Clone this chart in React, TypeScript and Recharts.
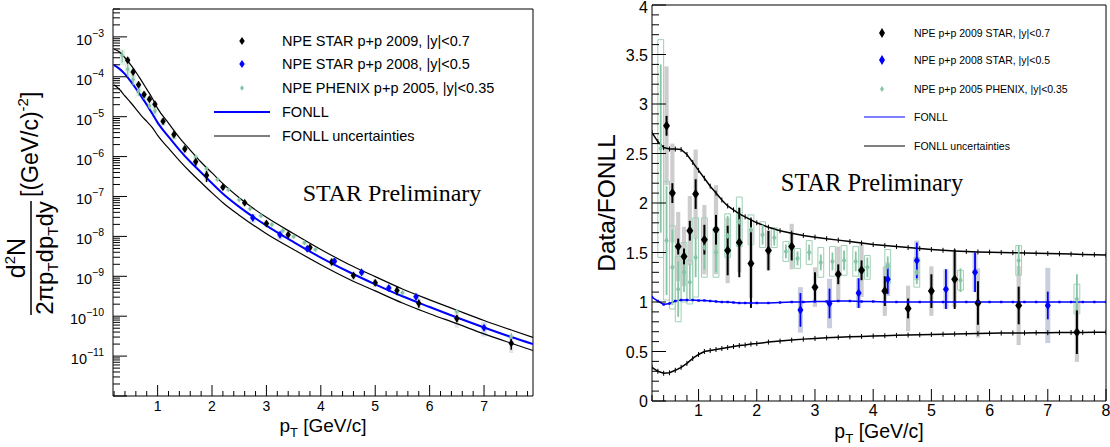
import React from "react";
import {
  ComposedChart,
  Line,
  Scatter,
  XAxis,
  YAxis,
  ErrorBar,
  ReferenceArea,
  Legend,
} from "recharts";

const SANS = "'Liberation Sans', Arial, Helvetica, sans-serif";
const SERIF = "'Liberation Serif', 'Times New Roman', Times, serif";

const BLUE = "#0000ff";
const GREEN = "#86c4a4";
const GREEN_BOX = "#9ed0b6";

// NPE STAR p+p 2009, |y|<0.7
const star09Pt = [0.45, 0.55, 0.65, 0.75, 0.85, 0.95, 1.1, 1.3, 1.5, 1.7, 1.9, 2.2, 2.6, 3.0, 3.4, 3.8, 4.2, 4.6, 5.0, 5.4, 5.8, 6.5, 7.5];
const star09Yield = [2.6e-4, 1.32e-4, 6.3e-5, 3.6e-5, 2.75e-5, 2.05e-5, 7.7e-6, 3.6e-6, 1.55e-6, 7.4e-7, 3.4e-7, 1.7e-7, 7.0e-8, 2.1e-8, 1.1e-8, 5.3e-9, 2.27e-9, 1.05e-9, 6.9e-10, 4.4e-10, 2.1e-10, 8.8e-11, 2.1e-11];
const star09Ratio = [2.78, 2.1, 1.56, 1.46, 1.72, 2.09, 1.63, 1.73, 1.52, 1.6, 1.39, 1.52, 1.56, 1.15, 1.28, 1.32, 1.11, 0.935, 1.11, 1.23, 0.99, 0.965, 0.695];
const star09Stat = [0.1, 0.1, 0.08, 0.08, 0.1, 0.15, 0.15, 0.15, 0.25, 0.35, 0.45, 0.2, 0.14, 0.15, 0.1, 0.1, 0.15, 0.1, 0.17, 0.3, 0.22, 0.19, 0.22];
const star09Sys = [0.6, 0.5, 0.35, 0.3, 0.35, 0.45, 0.35, 0.45, 0.33, 0.3, 0.35, 0.2, 0.23, 0.2, 0.28, 0.27, 0.25, 0.23, 0.25, 0.28, 0.35, 0.4, 0.3];

// NPE STAR p+p 2008, |y|<0.5
const star08Pt = [2.75, 3.25, 3.75, 4.25, 4.75, 5.25, 5.75, 7.0];
const star08Yield = [2.95e-8, 1.1e-8, 4.9e-9, 2.4e-9, 1.27e-9, 5.1e-10, 3.07e-10, 5.1e-11];
const star08Ratio = [0.92, 0.985, 1.09, 1.23, 1.42, 1.13, 1.3, 0.965];
const star08Stat = [0.17, 0.15, 0.15, 0.15, 0.18, 0.2, 0.2, 0.14];
const star08Sys = [0.23, 0.25, 0.15, 0.17, 0.2, 0.2, 0.2, 0.38];

// NPE PHENIX p+p 2005, |y|<0.35
const phenixPt = [0.35, 0.45, 0.55, 0.65, 0.75, 0.85, 0.95, 1.1, 1.3, 1.5, 1.7, 1.9, 2.1, 2.3, 2.5, 2.7, 2.9, 3.1, 3.3, 3.5, 3.7, 3.9, 4.25, 4.75, 5.5, 6.5, 7.5];
const phenixYield = [3.4e-4, 1.55e-4, 8.6e-5, 4.5e-5, 3.25e-5, 1.86e-5, 1.38e-5, 7.4e-6, 3.2e-6, 1.7e-6, 9.8e-7, 5.0e-7, 2.65e-7, 1.49e-7, 8.3e-8, 4.9e-8, 3.3e-8, 2.0e-8, 1.38e-8, 9.9e-9, 6.9e-9, 4.7e-9, 2.65e-9, 1.17e-9, 3.85e-10, 1.32e-10, 3.1e-11];
const phenixRatio = [2.55, 1.62, 1.35, 1.13, 1.3, 1.2, 1.45, 1.55, 1.5, 1.67, 1.81, 1.73, 1.68, 1.65, 1.51, 1.44, 1.5, 1.4, 1.41, 1.42, 1.41, 1.35, 1.36, 1.3, 1.22, 1.42, 1.03];
const phenixStat = [0.85, 0.55, 0.38, 0.28, 0.2, 0.18, 0.2, 0.22, 0.2, 0.2, 0.15, 0.12, 0.1, 0.08, 0.07, 0.07, 0.08, 0.08, 0.09, 0.1, 0.1, 0.1, 0.1, 0.12, 0.12, 0.15, 0.25];
const phenixSys = [1.1, 0.6, 0.42, 0.33, 0.3, 0.22, 0.4, 0.3, 0.25, 0.22, 0.25, 0.15, 0.13, 0.1, 0.1, 0.1, 0.12, 0.15, 0.15, 0.15, 0.15, 0.12, 0.17, 0.15, 0.1, 0.15, 0.15];

// FONLL spectrum (central + uncertainty band)
const fonllPt = [0.2, 0.3, 0.4, 0.5, 0.6, 0.7, 0.8, 0.9, 1.0, 1.2, 1.4, 1.6, 1.8, 2.0, 2.2, 2.5, 3.0, 3.5, 4.0, 4.5, 5.0, 5.5, 6.0, 6.5, 7.0, 7.5, 7.9];
const fonllCentral = [1.95e-4, 1.58e-4, 1.17e-4, 7.9e-5, 5.1e-5, 3.2e-5, 2.0e-5, 1.2e-5, 7.1e-6, 3.16e-6, 1.48e-6, 7.4e-7, 4.0e-7, 2.14e-7, 1.17e-7, 5.5e-8, 1.86e-8, 7.2e-9, 2.95e-9, 1.32e-9, 6.3e-10, 3.16e-10, 1.7e-10, 9.3e-11, 5.2e-11, 3.0e-11, 2.0e-11];
const fonllUpper = [4.9e-4, 4.2e-4, 3.0e-4, 2.04e-4, 1.32e-4, 8.1e-5, 4.9e-5, 2.95e-5, 1.62e-5, 6.9e-6, 3.0e-6, 1.45e-6, 7.2e-7, 3.9e-7, 2.1e-7, 9.3e-8, 3.0e-8, 1.17e-8, 4.7e-9, 2.04e-9, 9.8e-10, 4.8e-10, 2.57e-10, 1.41e-10, 7.8e-11, 4.5e-11, 2.95e-11];
const fonllLower = [6.3e-5, 4.8e-5, 3.3e-5, 2.3e-5, 1.58e-5, 1.07e-5, 7.6e-6, 5.4e-6, 3.4e-6, 1.62e-6, 7.9e-7, 4.1e-7, 2.24e-7, 1.23e-7, 7.0e-8, 3.4e-8, 1.17e-8, 4.7e-9, 1.95e-9, 8.7e-10, 4.3e-10, 2.14e-10, 1.15e-10, 6.5e-11, 3.6e-11, 2.1e-11, 1.38e-11];

// FONLL / FONLL central, with its uncertainties
const ratioPt = [0.2, 0.3, 0.4, 0.5, 0.6, 0.7, 0.8, 0.9, 1.0, 1.1, 1.2, 1.3, 1.4, 1.5, 1.6, 1.7, 1.8, 1.9, 2.0, 2.2, 2.4, 2.6, 2.8, 3.0, 3.2, 3.4, 3.6, 3.8, 4.0, 4.2, 4.4, 4.6, 4.8, 5.0, 5.2, 5.4, 5.6, 5.8, 6.0, 6.2, 6.4, 6.6, 6.8, 7.0, 7.2, 7.4, 7.6, 7.8, 8.0];
const ratioUpper = [2.71, 2.62, 2.56, 2.545, 2.545, 2.54, 2.49, 2.41, 2.33, 2.25, 2.17, 2.1, 2.03, 1.97, 1.93, 1.89, 1.86, 1.83, 1.8, 1.755, 1.72, 1.695, 1.672, 1.655, 1.64, 1.625, 1.61, 1.595, 1.58, 1.57, 1.56, 1.55, 1.54, 1.53, 1.522, 1.516, 1.51, 1.506, 1.503, 1.5, 1.498, 1.496, 1.493, 1.49, 1.487, 1.484, 1.481, 1.478, 1.475];
const ratioCentral = [1.05, 1.01, 0.975, 0.985, 1.01, 1.02, 1.02, 1.02, 1.015, 1.015, 1.01, 1.005, 1.0, 1.0, 0.995, 0.99, 0.99, 0.99, 0.99, 0.99, 0.995, 1.0, 1.0, 1.005, 1.005, 1.01, 1.01, 1.005, 1.005, 1.0, 1.0, 1.0, 1.0, 1.0, 1.0, 1.0, 1.0, 1.0, 1.0, 1.0, 1.0, 1.0, 1.0, 1.0, 1.0, 1.0, 1.0, 1.0, 1.0];
const ratioLower = [0.34, 0.3, 0.28, 0.285, 0.31, 0.34, 0.38, 0.43, 0.47, 0.5, 0.51, 0.52, 0.53, 0.54, 0.55, 0.56, 0.565, 0.575, 0.58, 0.595, 0.605, 0.615, 0.625, 0.632, 0.638, 0.643, 0.648, 0.652, 0.656, 0.66, 0.663, 0.666, 0.669, 0.672, 0.675, 0.677, 0.68, 0.682, 0.684, 0.686, 0.687, 0.688, 0.689, 0.69, 0.691, 0.692, 0.693, 0.694, 0.695];

const logLabelExps = [-11, -10, -9, -8, -7, -6, -5, -4, -3];
const ratioLabels = [0, 0.5, 1, 1.5, 2, 2.5, 3, 3.5, 4];

// axis ticks (minor ones without label)
const specXTicks = Array.from({ length: 39 }, (_, i) => (i + 1) / 5);
const ratioXTicks = Array.from({ length: 40 }, (_, i) => (i + 1) / 5);
const ratioYTicks = Array.from({ length: 41 }, (_, i) => i / 10);
const logTicks: number[] = [];
for (let e = -12; e <= -3; e++) {
  for (let m = 1; m <= 9; m++) {
    const v = m * Math.pow(10, e);
    if (v <= 5e-3) logTicks.push(v);
  }
}

const curve = (xs: number[], ys: number[]) => xs.map((x, i) => ({ x, y: ys[i] }));

const spectrumPoints = (pt: number[], y: number[], r: number[], st: number[]) =>
  pt.map((x, i) => ({ x, y: y[i], e: (y[i] * st[i]) / r[i] }));
const ratioPoints = (pt: number[], r: number[], st: number[]) =>
  pt.map((x, i) => ({ x, y: r[i], e: st[i] }));

const diamond = (w: number, h: number, color: string) => (props: any) => {
  const { cx, cy } = props;
  if (cx == null || cy == null) return <g />;
  return (
    <polygon
      points={`${cx},${cy - h / 2} ${cx + w / 2},${cy} ${cx},${cy + h / 2} ${cx - w / 2},${cy}`}
      fill={color}
    />
  );
};

const xTick = (fontSize: number, dy: number, major: number, minor: number) => (props: any) => {
  const { x, y, payload } = props;
  const v = payload.value;
  const isMajor = Math.abs(v - Math.round(v)) < 1e-6;
  return (
    <g>
      <line x1={x} x2={x} y1={y} y2={y - (isMajor ? major : minor)} stroke="#000" strokeWidth={1} />
      {isMajor && (
        <text x={x} y={y + dy} textAnchor="middle" fontSize={fontSize} fontFamily={SANS} fill="#000">
          {Math.round(v)}
        </text>
      )}
    </g>
  );
};

const logTick = (props: any) => {
  const { x, y, payload } = props;
  const lg = Math.log10(payload.value);
  const exp = Math.round(lg);
  const isMajor = Math.abs(lg - exp) < 1e-6;
  return (
    <g>
      <line x1={x} x2={x + (isMajor ? 14 : 7)} y1={y} y2={y} stroke="#000" strokeWidth={1} />
      {isMajor && logLabelExps.includes(exp) && (
        <text x={x - 9} y={y + 8} textAnchor="end" fontFamily={SANS} fill="#000">
          <tspan fontSize={14.5}>10</tspan>
          <tspan fontSize={10.5} dy={-8}>{`\u2212${-exp}`}</tspan>
        </text>
      )}
    </g>
  );
};

const ratioYTick = (props: any) => {
  const { x, y, payload } = props;
  const v = payload.value;
  const isMajor = Math.abs(v * 2 - Math.round(v * 2)) < 1e-6;
  const lab = ratioLabels.find((l) => Math.abs(l - v) < 1e-6);
  return (
    <g>
      <line x1={x} x2={x + (isMajor ? 14 : 7)} y1={y} y2={y} stroke="#000" strokeWidth={1} />
      {lab !== undefined && (
        <text x={x - 4} y={Math.max(y + 6, 12.5)} textAnchor="end" fontSize={16} fontFamily={SANS} fill="#000">
          {String(lab)}
        </text>
      )}
    </g>
  );
};

function PtTitle({ vb, size, dy }: { vb: any; size: number; dy: number }) {
  if (!vb) return null;
  return (
    <text x={vb.x + vb.width / 2} y={vb.y + dy} textAnchor="middle" fontSize={size} fontFamily={SANS} fill="#000">
      <tspan>p</tspan>
      <tspan fontSize={size * 0.68} dy={5}>T</tspan>
      <tspan dy={-5}> [GeV/c]</tspan>
    </text>
  );
}

function YieldTitle() {
  return (
    <g transform="translate(31, 258) rotate(-90)" fontFamily={SANS} fill="#000">
      <line x1={-57} x2={57} y1={0} y2={0} stroke="#000" strokeWidth={1.5} />
      <text x={0} y={-6} textAnchor="middle" fontSize={25}>
        <tspan>d</tspan>
        <tspan fontSize={15} dy={-10}>2</tspan>
        <tspan dy={10}>N</tspan>
      </text>
      <text x={0} y={22} textAnchor="middle" fontSize={24}>
        <tspan>2πp</tspan>
        <tspan fontSize={15} dy={5}>T</tspan>
        <tspan dy={-5}>dp</tspan>
        <tspan fontSize={15} dy={5}>T</tspan>
        <tspan dy={-5}>dy</tspan>
      </text>
      <text x={61} y={7} textAnchor="start" fontSize={23}>
        <tspan>[(GeV/c)</tspan>
        <tspan fontSize={15} dy={-10}>-2</tspan>
        <tspan dy={10}>]</tspan>
      </text>
    </g>
  );
}

function LegendRows({
  rows,
  fontSize,
  dx,
  tx,
  lx1,
  lx2,
  w,
  h,
}: {
  rows: { label: string; kind: string; color: string; y: number; dw: number; dh: number }[];
  fontSize: number;
  dx: number;
  tx: number;
  lx1: number;
  lx2: number;
  w: number;
  h: number;
}) {
  return (
    <svg width={w} height={h} style={{ display: "block", overflow: "visible" }}>
      {rows.map((r) => (
        <g key={r.label}>
          {r.kind === "marker" ? (
            <polygon
              points={`${dx},${r.y - r.dh / 2} ${dx + r.dw / 2},${r.y} ${dx},${r.y + r.dh / 2} ${dx - r.dw / 2},${r.y}`}
              fill={r.color}
            />
          ) : (
            <line x1={lx1} x2={lx2} y1={r.y} y2={r.y} stroke={r.color} strokeWidth={r.dw} />
          )}
          <text x={tx} y={r.y + fontSize * 0.36} fontSize={fontSize} fontFamily={SANS} fill="#000">
            {r.label}
          </text>
        </g>
      ))}
    </svg>
  );
}

function SpectrumPanel() {
  const black = spectrumPoints(star09Pt, star09Yield, star09Ratio, star09Stat);
  const blue = spectrumPoints(star08Pt, star08Yield, star08Ratio, star08Stat);
  const green = spectrumPoints(phenixPt, phenixYield, phenixRatio, phenixStat);
  const box = (pt: number[], y: number[], r: number[], sys: number[], fill: string, key: string, hw: number) =>
    pt.map((x, i) => {
      const f = sys[i] / r[i];
      return (
        <ReferenceArea
          key={key + i}
          x1={x - hw}
          x2={x + hw}
          y1={y[i] * (1 - f)}
          y2={y[i] * (1 + f)}
          fill={fill}
          fillOpacity={0.55}
          stroke="none"
          ifOverflow="hidden"
        />
      );
    });
  return (
    <ComposedChart width={560} height={447} margin={{ top: 9, right: 27, bottom: 11, left: 0 }}>
      <XAxis
        type="number"
        dataKey="x"
        domain={[0.18, 7.9]}
        allowDataOverflow
        ticks={specXTicks}
        interval={0}
        tickLine={false}
        axisLine={false}
        tickSize={0}
        tickMargin={0}
        height={40}
        tick={xTick(14, 15, 11, 5)}
        label={{ content: (p: any) => <PtTitle vb={p.viewBox} size={19} dy={36} /> }}
      />
      <YAxis
        type="number"
        scale="log"
        domain={[1e-12, 5e-3]}
        allowDataOverflow
        ticks={logTicks}
        interval={0}
        tickLine={false}
        axisLine={false}
        tickSize={0}
        tickMargin={0}
        width={113}
        tick={logTick}
        label={{ content: () => <YieldTitle /> }}
      />
      <ReferenceArea x1={0.18} x2={7.9} y1={1e-12} y2={5e-3} fill="none" stroke="#000" strokeWidth={1} />
      {box(phenixPt, phenixYield, phenixRatio, phenixSys, "#c9e3d5", "pg", 0.05)}
      {box(star09Pt, star09Yield, star09Ratio, star09Sys, "#cfcfcf", "pk", 0.04)}
      {box(star08Pt, star08Yield, star08Ratio, star08Sys, "#b9c6e6", "pb", 0.05)}
      <Line data={curve(fonllPt, fonllUpper)} dataKey="y" type="monotone" stroke="#000" strokeWidth={1.2} dot={false} isAnimationActive={false} />
      <Line data={curve(fonllPt, fonllLower)} dataKey="y" type="monotone" stroke="#000" strokeWidth={1.2} dot={false} isAnimationActive={false} />
      <Line data={curve(fonllPt, fonllCentral)} dataKey="y" type="monotone" stroke={BLUE} strokeWidth={2} dot={false} isAnimationActive={false} />
      <Scatter data={green} dataKey="y" shape={diamond(4, 5.5, GREEN)} isAnimationActive={false}>
        <ErrorBar dataKey="e" direction="y" width={0} stroke={GREEN} strokeWidth={1.2} />
      </Scatter>
      <Scatter data={black} dataKey="y" shape={diamond(5.5, 8, "#000")} isAnimationActive={false}>
        <ErrorBar dataKey="e" direction="y" width={0} stroke="#000" strokeWidth={1.5} />
      </Scatter>
      <Scatter data={blue} dataKey="y" shape={diamond(5.5, 8, BLUE)} isAnimationActive={false}>
        <ErrorBar dataKey="e" direction="y" width={0} stroke={BLUE} strokeWidth={1.5} />
      </Scatter>
      <text x={392} y={201} textAnchor="middle" fontSize={24} fontFamily={SERIF} fill="#000">
        STAR Preliminary
      </text>
      <Legend
        layout="vertical"
        align="center"
        verticalAlign="middle"
        wrapperStyle={{ left: 200, top: 25, width: 320, height: 125 }}
        content={() => (
          <LegendRows
            w={320}
            h={125}
            fontSize={14.5}
            dx={42}
            tx={82}
            lx1={14}
            lx2={70}
            rows={[
              { label: "NPE STAR p+p 2009, |y|<0.7", kind: "marker", color: "#000", y: 16, dw: 5.5, dh: 8 },
              { label: "NPE STAR p+p 2008, |y|<0.5", kind: "marker", color: BLUE, y: 39, dw: 5.5, dh: 8 },
              { label: "NPE PHENIX p+p 2005, |y|<0.35", kind: "marker", color: GREEN, y: 63, dw: 4, dh: 5.5 },
              { label: "FONLL", kind: "line", color: BLUE, y: 87, dw: 2, dh: 0 },
              { label: "FONLL uncertainties", kind: "line", color: "#000", y: 111, dw: 1.2, dh: 0 },
            ]}
          />
        )}
      />
    </ComposedChart>
  );
}

const tickDot = (props: any) => {
  const { cx, cy } = props;
  if (cx == null || cy == null) return <g />;
  return <line x1={cx} x2={cx} y1={cy - 2.5} y2={cy + 2.5} stroke="#000" strokeWidth={1} />;
};
const blueDot = (props: any) => {
  const { cx, cy } = props;
  if (cx == null || cy == null) return <g />;
  return <rect x={cx - 1.2} y={cy - 1.2} width={2.4} height={2.4} fill={BLUE} />;
};

function RatioPanel() {
  const black = ratioPoints(star09Pt, star09Ratio, star09Stat);
  const blue = ratioPoints(star08Pt, star08Ratio, star08Stat);
  const green = ratioPoints(phenixPt, phenixRatio, phenixStat);
  return (
    <ComposedChart width={550} height={447} margin={{ top: 5, right: 4, bottom: 6, left: 0 }}>
      <XAxis
        type="number"
        dataKey="x"
        domain={[0.2, 8]}
        allowDataOverflow
        ticks={ratioXTicks}
        interval={0}
        tickLine={false}
        axisLine={false}
        tickSize={0}
        tickMargin={0}
        height={40}
        tick={xTick(16, 15, 12, 6)}
        label={{ content: (p: any) => <PtTitle vb={p.viewBox} size={19.5} dy={37} /> }}
      />
      <YAxis
        type="number"
        domain={[0, 4]}
        allowDataOverflow
        ticks={ratioYTicks}
        interval={0}
        tickLine={false}
        axisLine={false}
        tickSize={0}
        tickMargin={0}
        width={92}
        tick={ratioYTick}
        label={{
          content: (p: any) => {
            const vb = p.viewBox || { x: 0, y: 5, width: 92, height: 396 };
            return (
              <text
                transform={`translate(${vb.x + 55}, ${vb.y + vb.height / 2}) rotate(-90)`}
                textAnchor="middle"
                fontSize={24.5}
                fontFamily={SANS}
                fill="#000"
              >
                Data/FONLL
              </text>
            );
          },
        }}
      />
      <ReferenceArea x1={0.2} x2={8} y1={0} y2={4} fill="none" stroke="#000" strokeWidth={1} />
      {star09Pt.map((x, i) => (
        <ReferenceArea
          key={"rk" + i}
          x1={x - 0.036}
          x2={x + 0.036}
          y1={star09Ratio[i] - star09Sys[i]}
          y2={star09Ratio[i] + star09Sys[i]}
          fill="#c4c4c4"
          fillOpacity={0.85}
          stroke="none"
          ifOverflow="hidden"
        />
      ))}
      {star08Pt.map((x, i) => (
        <ReferenceArea
          key={"rb" + i}
          x1={x - 0.043}
          x2={x + 0.043}
          y1={star08Ratio[i] - star08Sys[i]}
          y2={star08Ratio[i] + star08Sys[i]}
          fill="#c3cadb"
          fillOpacity={0.9}
          stroke="none"
          ifOverflow="hidden"
        />
      ))}
      {phenixPt.map((x, i) => (
        <ReferenceArea
          key={"rg" + i}
          x1={x - 0.05}
          x2={x + 0.05}
          y1={phenixRatio[i] - phenixSys[i]}
          y2={phenixRatio[i] + phenixSys[i]}
          fill="none"
          stroke={GREEN_BOX}
          strokeWidth={1}
          ifOverflow="hidden"
        />
      ))}
      <Line data={curve(ratioPt, ratioUpper)} dataKey="y" type="linear" stroke="#000" strokeWidth={1.5} dot={tickDot} isAnimationActive={false} />
      <Line data={curve(ratioPt, ratioLower)} dataKey="y" type="linear" stroke="#000" strokeWidth={1.5} dot={tickDot} isAnimationActive={false} />
      <Line data={curve(ratioPt, ratioCentral)} dataKey="y" type="linear" stroke={BLUE} strokeWidth={1.5} dot={blueDot} isAnimationActive={false} />
      <Scatter data={green} dataKey="y" shape={diamond(4.5, 6.5, GREEN)} isAnimationActive={false}>
        <ErrorBar dataKey="e" direction="y" width={0} stroke={GREEN} strokeWidth={1.8} />
      </Scatter>
      <Scatter data={black} dataKey="y" shape={diamond(7, 10, "#000")} isAnimationActive={false}>
        <ErrorBar dataKey="e" direction="y" width={0} stroke="#000" strokeWidth={2} />
      </Scatter>
      <Scatter data={blue} dataKey="y" shape={diamond(6, 9, BLUE)} isAnimationActive={false}>
        <ErrorBar dataKey="e" direction="y" width={0} stroke={BLUE} strokeWidth={1.8} />
      </Scatter>
      <text x={312} y={191} textAnchor="middle" fontSize={24.5} fontFamily={SERIF} fill="#000">
        STAR Preliminary
      </text>
      <Legend
        layout="vertical"
        align="center"
        verticalAlign="middle"
        wrapperStyle={{ left: 300, top: 15, width: 240, height: 150 }}
        content={() => (
          <LegendRows
            w={240}
            h={150}
            fontSize={10.5}
            dx={22}
            tx={54}
            lx1={4}
            lx2={45}
            rows={[
              { label: "NPE p+p 2009 STAR, |y|<0.7", kind: "marker", color: "#000", y: 18, dw: 6, dh: 10 },
              { label: "NPE p+p 2008 STAR, |y|<0.5", kind: "marker", color: BLUE, y: 45, dw: 6, dh: 10 },
              { label: "NPE p+p 2005 PHENIX, |y|<0.35", kind: "marker", color: GREEN, y: 74, dw: 4, dh: 6 },
              { label: "FONLL", kind: "line", color: BLUE, y: 102, dw: 1.2, dh: 0 },
              { label: "FONLL uncertainties", kind: "line", color: "#000", y: 131, dw: 1.2, dh: 0 },
            ]}
          />
        )}
      />
    </ComposedChart>
  );
}

export default function App() {
  return (
    <div style={{ position: "absolute", left: 0, top: 0, width: 1110, height: 447, background: "#fff", fontFamily: SANS }}>
      <div style={{ position: "absolute", left: 0, top: 0 }}>
        <SpectrumPanel />
      </div>
      <div style={{ position: "absolute", left: 560, top: 0 }}>
        <RatioPanel />
      </div>
    </div>
  );
}
